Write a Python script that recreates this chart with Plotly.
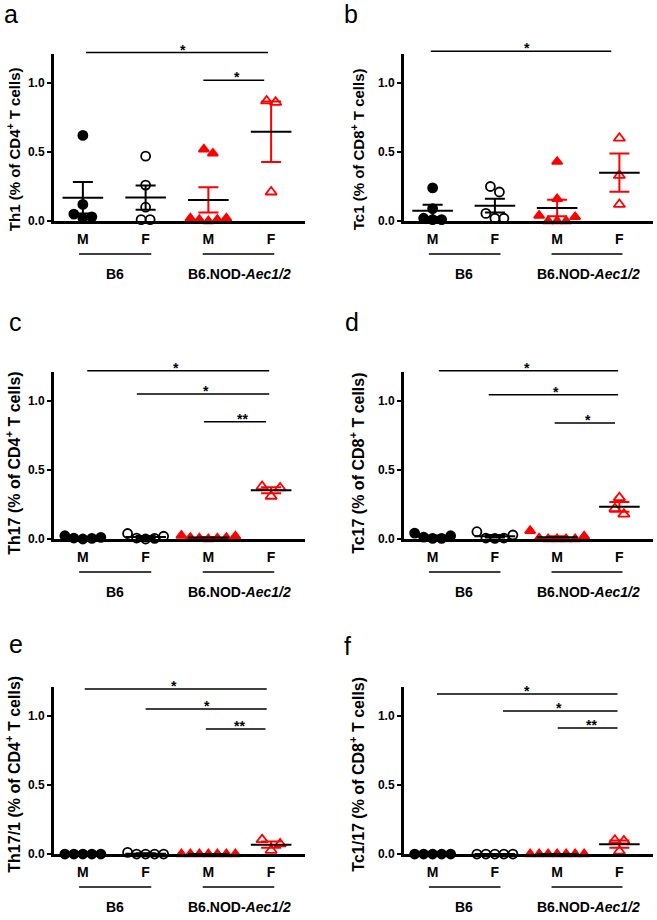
import numpy as np
import plotly.graph_objects as go

W, H = 657, 920
FONT = "Liberation Sans, Arial, sans-serif"
RED = "#ff0000"
BLACK = "#000000"

# ---------------- data ----------------
CATS = ["M", "F", "M", "F"]
STRAINS = ["B6", "B6.NOD-<i>Aec1/2</i>"]
PANEL_LETTERS = ["a", "b", "c", "d", "e", "f"]
Y_TITLES = [
    "Th1 (% of CD4<sup>+</sup> T cells)",
    "Tc1 (% of CD8<sup>+</sup> T cells)",
    "Th17 (% of CD4<sup>+</sup> T cells)",
    "Tc17 (% of CD8<sup>+</sup> T cells)",
    "Th17/1 (% of CD4<sup>+</sup> T cells)",
    "Tc1/17 (% of CD8<sup>+</sup> T cells)",
]
Y_TICKS = [0.0, 0.5, 1.0]
Y_TICK_LABELS = ["0.0", "0.5", "1.0"]

# order of groups: B6 M, B6 F, B6.NOD M, B6.NOD F
th1_b6_m = [0.62, 0.12, 0.05, 0.02, 0.03]
th1_b6_f = [0.47, 0.26, 0.10, 0.01, 0.01]
th1_nod_m = [0.52, 0.49, 0.02, 0.01, 0.00, 0.01, 0.02]
th1_nod_f = [0.87, 0.86, 0.21]

tc1_b6_m = [0.24, 0.09, 0.02, 0.01, 0.01]
tc1_b6_f = [0.25, 0.21, 0.055, 0.02, 0.02]
tc1_nod_m = [0.43, 0.16, 0.04, 0.00, 0.00, 0.00, 0.03]
tc1_nod_f = [0.60, 0.33, 0.12]

th17_b6_m = [0.024, 0.007, 0.000, 0.005, 0.012]
th17_b6_f = [0.040, 0.007, 0.000, 0.005, 0.020]
th17_nod_m = [0.025, 0.010, 0.000, 0.005, 0.020, 0.010, 0.005]
th17_nod_f = [0.38, 0.37, 0.31]

tc17_b6_m = [0.043, 0.014, 0.005, 0.005, 0.024]
tc17_b6_f = [0.053, 0.007, 0.005, 0.007, 0.029]
tc17_nod_m = [0.060, 0.000, 0.000, 0.000, 0.000, 0.005, 0.020]
tc17_nod_f = [0.30, 0.22, 0.18]

th171_b6_m = [0.0, 0.0, 0.0, 0.0, 0.0]
th171_b6_f = [0.012, 0.0, 0.0, 0.0, 0.0]
th171_nod_m = [0.0, 0.0, 0.0, 0.0, 0.0, 0.0, 0.0]
th171_nod_f = [0.104, 0.073, 0.027]

tc117_b6_m = [0.0, 0.0, 0.0, 0.0, 0.0]
tc117_b6_f = [0.0, 0.0, 0.0, 0.0, 0.0]
tc117_nod_m = [0.0, 0.0, 0.0, 0.0, 0.0, 0.0, 0.0]
tc117_nod_f = [0.10, 0.095, 0.02]

PANEL_DATA = [
    [th1_b6_m, th1_b6_f, th1_nod_m, th1_nod_f],
    [tc1_b6_m, tc1_b6_f, tc1_nod_m, tc1_nod_f],
    [th17_b6_m, th17_b6_f, th17_nod_m, th17_nod_f],
    [tc17_b6_m, tc17_b6_f, tc17_nod_m, tc17_nod_f],
    [th171_b6_m, th171_b6_f, th171_nod_m, th171_nod_f],
    [tc117_b6_m, tc117_b6_f, tc117_nod_m, tc117_nod_f],
]

# significance labels per panel
SIG_LABELS = [
    ["*", "*"],
    ["*"],
    ["*", "*", "**"],
    ["*", "*", "*"],
    ["*", "*", "**"],
    ["*", "*", "**"],
]

# ---------------- layout geometry ----------------
SY = 1.0077   # vertical compensation: the photographed page is slightly squeezed
ROW_TOP = [54, 372, 687]
ROW_ZERO = [221, 539, 854]
COL_L = [54, 404]
COL_R = [305, 653]
X_RANGE = [0.54, 4.54]
Y_RANGE = [0.0, 1.21]
TITLE_DX = [-41, -47]
TITLE_FRAC = [0.43, 0.45, 0.475]
TITLE_SIZE = [15, 16, 16]
LETTER_POS = [(3, 29), (343, 29), (8, 337), (344, 337), (8, 659), (343, 661)]

# bracket geometry per panel: (x0, x1, y, star_x)
BRACKETS = [
    [(1.05, 3.95, 1.22, 2.60), (2.92, 3.89, 1.02, 3.46)],
    [(0.97, 3.87, 1.23, 2.52)],
    [(1.07, 3.97, 1.22, 2.48), (1.86, 3.97, 1.05, 2.96), (2.93, 3.92, 0.85, 3.54)],
    [(1.10, 3.98, 1.22, 2.52), (1.90, 3.98, 1.045, 2.98), (2.96, 3.93, 0.84, 3.50)],
    [(1.03, 3.93, 1.196, 2.45), (2.00, 3.93, 1.05, 2.98), (2.96, 3.91, 0.906, 3.49)],
    [(1.07, 3.97, 1.16, 2.52), (2.13, 3.97, 1.036, 3.03), (3.01, 3.97, 0.913, 3.55)],
]

GROUP_STYLE = [
    dict(symbol="circle", color=BLACK, size=9, err=BLACK),
    dict(symbol="circle-open", color=BLACK, size=9, err=BLACK),
    dict(symbol="triangle-up", color=RED, size=9, err=RED),
    dict(symbol="triangle-up-open", color=RED, size=10, err=RED),
]


def swarm(vals, gap=0.065):
    """Simple GraphPad-like scatter: points close in value share a row."""
    order = sorted(range(len(vals)), key=lambda i: -vals[i])
    rows = []
    for i in order:
        if rows and vals[rows[-1][-1]] - vals[i] <= gap:
            rows[-1].append(i)
        else:
            rows.append([i])
    off = [0.0] * len(vals)
    for row in rows:
        n = len(row)
        slots = [k - (n - 1) / 2 for k in range(n)]
        seq = []
        lo, hi = 0, n - 1
        while lo <= hi:
            seq.append(slots[lo])
            if hi != lo:
                seq.append(slots[hi])
            lo += 1
            hi -= 1
        for idx, s in zip(row, seq):
            off[idx] = s
    return off


fig = go.Figure()
annotations = []
shapes = []
layout_axes = {}

for k in range(6):
    r, c = divmod(k, 2)
    sfx = "" if k == 0 else str(k + 1)
    xname, yname = "x" + sfx, "y" + sfx
    plot_w = COL_R[c] - COL_L[c]
    plot_h = (ROW_ZERO[r] - ROW_TOP[r]) * SY
    step = 9.0 / (plot_w / (X_RANGE[1] - X_RANGE[0]))

    def xd(x):
        return (x - X_RANGE[0]) / (X_RANGE[1] - X_RANGE[0])

    def yd(y):
        return (y - Y_RANGE[0]) / (Y_RANGE[1] - Y_RANGE[0])

    for g, vals in enumerate(PANEL_DATA[k]):
        st = GROUP_STYLE[g]
        offs = swarm(vals)
        xs = [g + 1 + o * step for o in offs]
        fig.add_trace(go.Scatter(
            x=xs, y=vals, mode="markers", xaxis=xname, yaxis=yname,
            cliponaxis=False, showlegend=False, hoverinfo="skip",
            marker=dict(symbol=st["symbol"], size=st["size"], color=st["color"],
                        line=dict(color=st["color"], width=1.8)),
        ))
        arr = np.array(vals, dtype=float)
        mean = float(arr.mean())
        sem = float(arr.std(ddof=1) / np.sqrt(len(arr)))
        fig.add_trace(go.Scatter(
            x=[g + 1], y=[mean], mode="markers", xaxis=xname, yaxis=yname,
            cliponaxis=False, showlegend=False, hoverinfo="skip",
            marker=dict(symbol="line-ew", size=29, color=BLACK,
                        line=dict(color=BLACK, width=2)),
            error_y=dict(type="data", array=[sem], visible=True, color=st["err"],
                         thickness=2, width=10),
        ))

    layout_axes["xaxis" + sfx] = dict(
        domain=[COL_L[c] / W, COL_R[c] / W], range=X_RANGE, anchor=yname,
        tickvals=[1, 2, 3, 4], ticktext=CATS, ticks="", showline=True,
        linecolor=BLACK, linewidth=3, showgrid=False, zeroline=False,
        tickfont=dict(family=FONT, size=14, color=BLACK, weight="bold"),
        ticklabelstandoff=3,
        fixedrange=True,
    )
    layout_axes["yaxis" + sfx] = dict(
        domain=[1 - ROW_ZERO[r] * SY / H, 1 - ROW_TOP[r] * SY / H], range=Y_RANGE,
        anchor=xname,
        tickvals=Y_TICKS, ticktext=Y_TICK_LABELS, ticks="outside", ticklen=4,
        tickwidth=2, tickcolor=BLACK, showline=True, linecolor=BLACK, linewidth=3,
        showgrid=False, zeroline=False,
        tickfont=dict(family=FONT, size=12, color=BLACK, weight="bold"),
        fixedrange=True,
    )

    # y title
    annotations.append(dict(
        text=Y_TITLES[k], xref="paper", yref=yname + " domain",
        x=(COL_L[c] + TITLE_DX[c]) / W, y=TITLE_FRAC[r], textangle=-90,
        xanchor="center", yanchor="middle", showarrow=False,
        font=dict(family=FONT, size=TITLE_SIZE[r], color=BLACK, weight="bold"),
    ))
    # panel letter
    lx, ly = LETTER_POS[k]
    annotations.append(dict(
        text=PANEL_LETTERS[k], xref="paper", yref="paper", x=lx / W,
        y=1 - ly * SY / H,
        xanchor="left", yanchor="bottom", showarrow=False, borderpad=0,
        font=dict(family=FONT, size=25, color=BLACK),
    ))
    # strain group lines and labels
    for si, (a0, a1, tx) in enumerate([(0.94, 2.09, 1.51), (2.91, 4.05, 3.50)]):
        ly_line = -33 * SY / plot_h
        shapes.append(dict(
            type="line", xref=xname + " domain", yref=yname + " domain",
            x0=xd(a0), x1=xd(a1), y0=ly_line, y1=ly_line,
            line=dict(color=BLACK, width=1.5),
        ))
        annotations.append(dict(
            text=STRAINS[si], xref=xname, yref=yname + " domain", x=tx,
            y=-53 * SY / plot_h, xanchor="center", yanchor="middle", showarrow=False,
            font=dict(family=FONT, size=14, color=BLACK, weight="bold"),
        ))
    # significance brackets
    for (b0, b1, by, sx), lab in zip(BRACKETS[k], SIG_LABELS[k]):
        shapes.append(dict(
            type="line", xref=xname + " domain", yref=yname + " domain",
            x0=xd(b0), x1=xd(b1), y0=yd(by), y1=yd(by),
            line=dict(color=BLACK, width=1.5),
        ))
        annotations.append(dict(
            text=lab, xref=xname + " domain", yref=yname + " domain",
            x=xd(sx), y=yd(by), yshift=3,
            xanchor="center", yanchor="middle", showarrow=False,
            font=dict(family=FONT, size=14, color=BLACK, weight="bold"),
        ))

fig.update_layout(
    width=W, height=H, margin=dict(l=0, r=0, t=0, b=0),
    paper_bgcolor="white", plot_bgcolor="white",
    font=dict(family=FONT, color=BLACK),
    annotations=annotations, shapes=shapes, showlegend=False,
    **layout_axes,
)

fig.write_html("out.html", config={"displayModeBar": False},
               post_script="document.body.style.margin='0';")
